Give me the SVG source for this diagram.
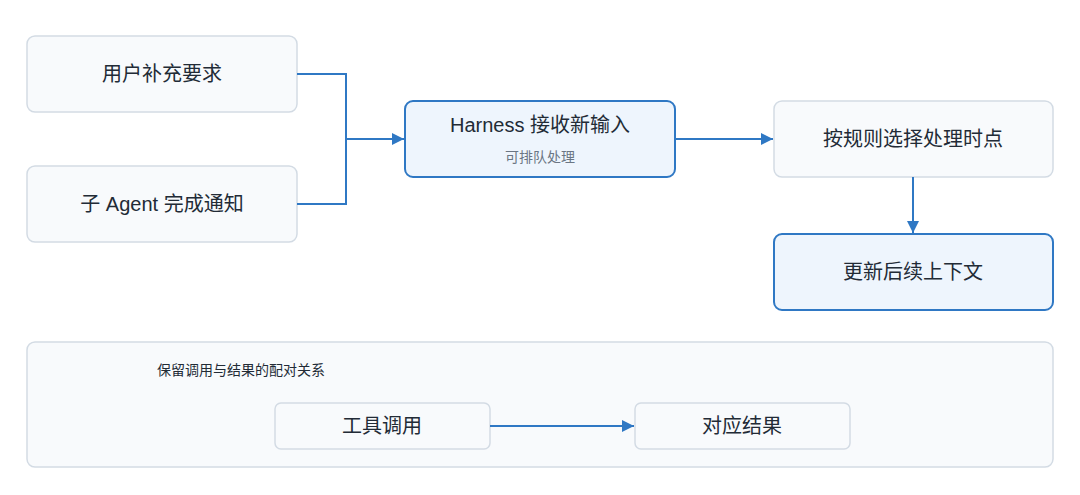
<svg xmlns="http://www.w3.org/2000/svg" width="1080" height="495" viewBox="0 0 1080 495">
<style>
.n{fill:#f8fafc;stroke:#d3dbe4;stroke-width:1.5}
.h{fill:#eef5fd;stroke:#2f78c4;stroke-width:2}
.t{font-family:"Liberation Sans","Noto Sans CJK SC",sans-serif;fill:#222b36;text-anchor:middle;dominant-baseline:central;font-size:20px}
.s{font-family:"Liberation Sans","Noto Sans CJK SC",sans-serif;fill:#6b7684;text-anchor:middle;dominant-baseline:central;font-size:14px}
.c{fill:none;stroke:#2f78c4;stroke-width:2}
</style>
<defs><marker id="a" viewBox="0 0 10 10" refX="10" refY="5" markerWidth="6" markerHeight="6" orient="auto"><path d="M0,0L10,5L0,10z" fill="#2f78c4"/></marker></defs>
<rect width="1080" height="495" fill="#fff"/>
<g id="group"><rect class="n" x="27" y="342" width="1026" height="125" rx="8"/><text class="s" x="157" y="370" style="text-anchor:start;fill:#222b36">保留调用与结果的配对关系</text></g>
<g id="n1"><rect class="n" x="27" y="36" width="270" height="76" rx="8"/><text class="t" x="162" y="74">用户补充要求</text></g>
<g id="n2"><rect class="n" x="27" y="166" width="270" height="76" rx="8"/><text class="t" x="162" y="204">子 Agent 完成通知</text></g>
<g id="n3"><rect class="h" x="405" y="101" width="270" height="76" rx="8"/><text class="t" x="540" y="125">Harness 接收新输入</text><text class="s" x="540" y="157">可排队处理</text></g>
<g id="n4"><rect class="n" x="774" y="101" width="279" height="76" rx="8"/><text class="t" x="913" y="139">按规则选择处理时点</text></g>
<g id="n5"><rect class="h" x="774" y="234" width="279" height="76" rx="8"/><text class="t" x="913" y="272">更新后续上下文</text></g>
<g id="n6"><rect class="n" x="275" y="403" width="215" height="46" rx="6"/><text class="t" x="382" y="426">工具调用</text></g>
<g id="n7"><rect class="n" x="635" y="403" width="215" height="46" rx="6"/><text class="t" x="742" y="426">对应结果</text></g>
<g id="connectors">
<path class="c" d="M297,74H346V204H297"/>
<path class="c" d="M346,139H404" marker-end="url(#a)"/>
<path class="c" d="M675,139H773" marker-end="url(#a)"/>
<path class="c" d="M913,177V233" marker-end="url(#a)"/>
<path class="c" d="M490,426H634" marker-end="url(#a)"/>
</g>
</svg>
